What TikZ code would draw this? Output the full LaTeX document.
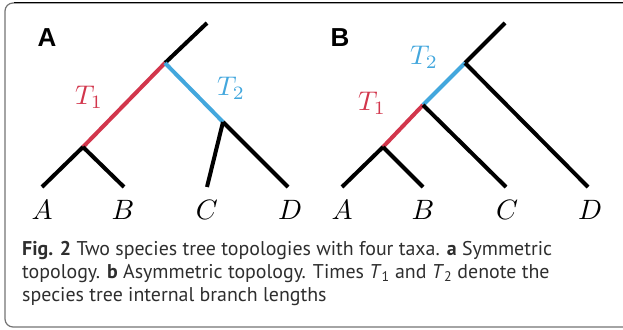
\documentclass[tikz,border=0pt]{standalone}
\usepackage{fontspec}
\newfontfamily\capfont{PT Sans}
\newfontfamily\panelfont{Liberation Sans}
\definecolor{branchred}{HTML}{D2364C}
\definecolor{branchblue}{HTML}{43A7DD}
\definecolor{captext}{HTML}{2E2E2E}
\tikzset{
  branch/.style={line width=4pt, black},
  t1branch/.style={line width=4pt, branchred},
  t2branch/.style={line width=4pt, branchblue},
  taxon/.style={anchor=base, inner sep=0pt, scale=2.8},
  timelabel/.style={inner sep=0pt, scale=2.7},
  panel/.style={inner sep=0pt, font=\panelfont\bfseries\fontsize{26}{28}\selectfont},
  capline/.style={anchor=base west, inner sep=0pt, text=captext,
                  font=\capfont\fontsize{19.9}{23}\selectfont},
}
\begin{document}
\begin{tikzpicture}[x=1pt, y=-1pt]
\useasboundingbox (0,0) rectangle (623,329);

% figure frame
\draw[black!55, line width=1.2pt, rounded corners=8pt] (5,3) rectangle (660,327);
\draw[black, line width=1.5pt] (14,2.5) -- (623,2.5);

% panel letters
\node[panel] (pa) at (47,38) {A};
\node[panel] (pb) at (340,38) {B};

% ---- symmetric tree ----
\coordinate (atop) at (207,23);
\coordinate (aroot) at (165,63);
\coordinate (aab) at (83,147);
\coordinate (acd) at (223,122);
\coordinate (aA) at (42,187);
\coordinate (aB) at (124,187);
\coordinate (aC) at (207,187);
\coordinate (aD) at (288,187);
\draw[branch] (atop) -- (aroot);
\draw[t1branch] (aroot) -- (aab);
\draw[t2branch] (aroot) -- (acd);
\draw[branch] (aab) -- (aA);
\draw[branch] (aab) -- (aB);
\draw[branch] (acd) -- (aC);
\draw[branch] (acd) -- (aD);
\node[taxon] (laA) at (42,219) {$A$};
\node[taxon] (laB) at (123,219) {$B$};
\node[taxon] (laC) at (207,219) {$C$};
\node[taxon] (laD) at (290,219) {$D$};
\node[timelabel, text=branchred] (at1) at (89,97) {$T_1$};
\node[timelabel, text=branchblue] (at2) at (231,88) {$T_2$};

% ---- asymmetric tree ----
\coordinate (btop) at (505,23);
\coordinate (bd) at (465,63);
\coordinate (bc) at (423,105);
\coordinate (bab) at (383,147);
\coordinate (bA) at (342,187);
\coordinate (bB) at (423,187);
\coordinate (bC) at (506,187);
\coordinate (bD) at (588,187);
\draw[branch] (btop) -- (bd);
\draw[t2branch] (bd) -- (bc);
\draw[t1branch] (bc) -- (bab);
\draw[branch] (bab) -- (bA);
\draw[branch] (bab) -- (bB);
\draw[branch] (bc) -- (bC);
\draw[branch] (bd) -- (bD);
\node[taxon] (lbA) at (342,219) {$A$};
\node[taxon] (lbB) at (423,219) {$B$};
\node[taxon] (lbC) at (507,219) {$C$};
\node[taxon] (lbD) at (590,219) {$D$};
\node[timelabel, text=branchred] (bt1) at (372,103) {$T_1$};
\node[timelabel, text=branchblue] (bt2) at (424,57) {$T_2$};

% caption, one node per line
\node[capline] (cap1) at (22,255)
  {\textbf{Fig. 2} Two species tree topologies with four taxa. \textbf{a} Symmetric};
\node[capline] (cap2) at (22,278)
  {topology. \textbf{b} Asymmetric topology. Times \textit{T}\textsubscript{1} and \textit{T}\textsubscript{2} denote the};
\node[capline] (cap3) at (22,301)
  {species tree internal branch lengths};
\end{tikzpicture}
\end{document}
